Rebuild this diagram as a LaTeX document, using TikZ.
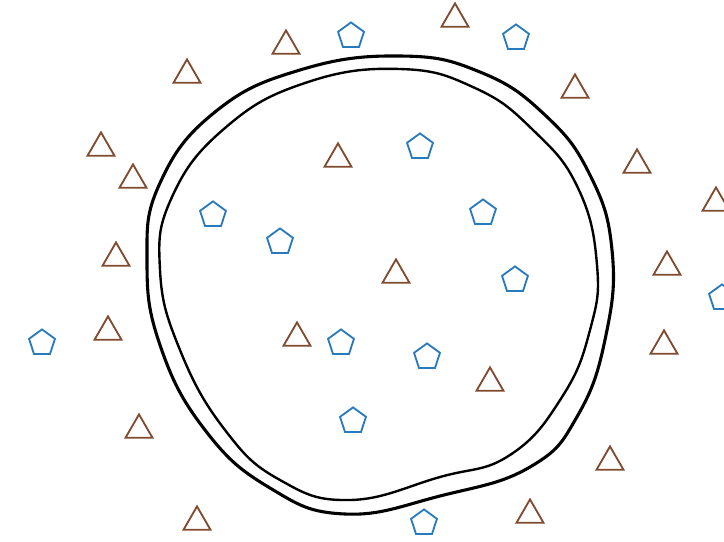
\documentclass[tikz,border=0pt]{standalone}
\usetikzlibrary{shapes.geometric}
\definecolor{tribrown}{RGB}{128,74,46}
\definecolor{pentblue}{RGB}{40,122,190}
\tikzset{
  tri/.style={regular polygon,regular polygon sides=3,draw=tribrown,line width=1.3pt,
    minimum size=0.78cm,inner sep=0pt},
  pent/.style={regular polygon,regular polygon sides=5,draw=pentblue,line width=1.3pt,
    minimum size=0.68cm,inner sep=0pt},
  wall/.style={line width=2.2pt,line join=round}
}
\begin{document}
\begin{tikzpicture}[x=0.025cm,y=-0.025cm]
\useasboundingbox (0,0) rectangle (724,541);
% cell wall, outer and inner line
\draw[wall] plot[smooth cycle,tension=0.75] coordinates {(400,56) (480,72) (545,115) (590,175)
  (612,250) (606,335) (578,415) (530,467) (440,496) (345,514) (270,488) (205,430) (160,345)
  (147,260) (160,183) (215,112) (300,70)};
\draw[wall,line width=1.7pt] plot[smooth cycle,tension=0.75] coordinates {(400,69) (475,88)
  (533,130) (578,188) (597,265) (590,330) (562,397) (510,455) (440,477) (350,500) (280,480)
  (225,430) (180,350) (160,270) (172,197) (225,128) (305,83)};
% triangles
\foreach \x/\y [count=\i] in {455/19,286/46,187/75,575/90,101/148,133/180,338/159,637/165,
  716/203,116/258,667/267,396/275,108/332,297/338,664/346,490/383,139/430,610/462,197/522,530/515}
  \node[tri] (t\i) at (\x,\y) {};
% pentagons
\foreach \x/\y [count=\i] in {351/36,516/38,420/147,213/215,280/242,483/213,515/280,722/298,
  42/343,341/343,427/357,353/421,424/523}
  \node[pent] (p\i) at (\x,\y) {};
\end{tikzpicture}
\end{document}
